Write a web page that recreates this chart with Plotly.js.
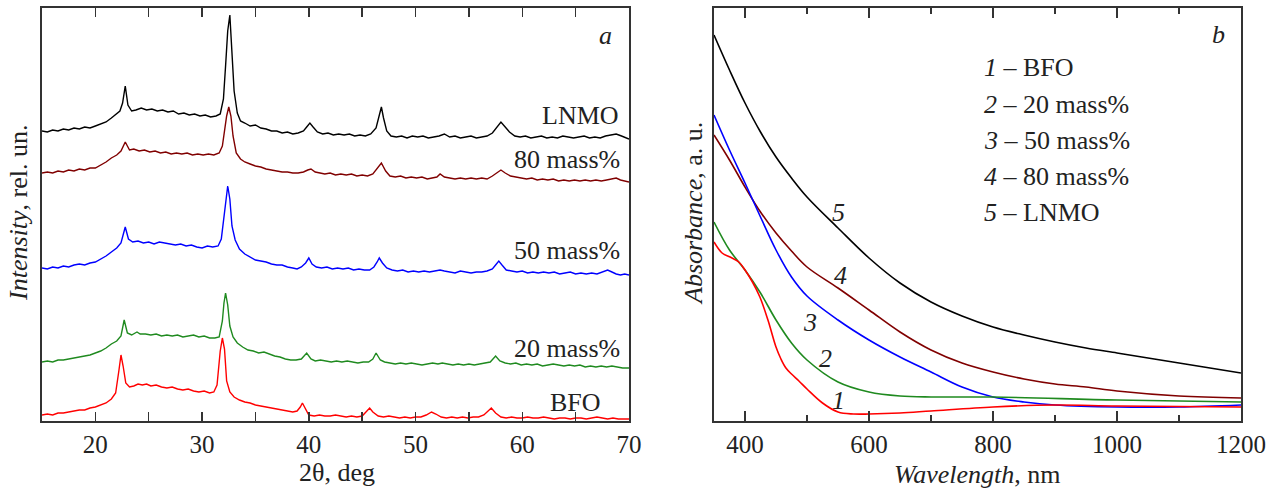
<!DOCTYPE html>
<html><head><meta charset="utf-8">
<script src="https://cdn.plot.ly/plotly-3.0.1.min.js"></script>
<style>body{margin:0;background:#fff}#c{width:1275px;height:492px}</style>
</head><body><div id="c"></div>
<script>
// ---------- Panel a: XRD (2θ, deg ; intensity, arbitrary units with offsets) ----------
const lnmoX = [15,15.5,16,16.5,17,17.5,18,18.5,19,19.5,20,20.5,21,21.5,22,22.3,22.55,22.8,23.05,23.4,23.8,24.3,24.8,25.3,25.8,26.3,26.8,27.3,27.8,28.3,28.8,29.3,29.8,30.3,30.8,31.3,31.7,32.0,32.2,32.4,32.6,32.8,33.0,33.3,33.6,34.0,34.5,35.0,35.5,36.0,36.5,37.0,37.5,38.0,38.5,39.0,39.5,39.8,40.1,40.4,40.8,41.3,41.8,42.3,42.8,43.3,43.8,44.3,44.8,45.3,45.8,46.3,46.6,46.8,47.0,47.3,47.7,48.2,48.7,49.2,49.7,50.2,50.7,51.2,51.7,52.2,52.7,53.2,53.7,54.2,54.7,55.2,55.7,56.2,56.7,57.2,57.6,58.0,58.4,58.8,59.3,59.8,60.3,60.8,61.3,61.8,62.3,62.8,63.3,63.8,64.3,64.8,65.3,65.8,66.3,66.8,67.3,67.8,68.3,68.8,69.3,69.7,70];
const lnmoY = [290,289,291,290,292,291,293,292,294,293,295,297,299,303,307,310,318,335,316,310,311,313,311,312,310,311,309,310,307,308,306,307,305,306,304,305,307,322,355,390,406,370,330,308,300,298,295,296,293,292,290,290,288,289,287,288,290,294,298,294,289,287,288,286,287,286,287,285,286,285,287,293,305,314,303,290,285,284,285,283,285,284,285,283,284,285,287,284,285,283,284,285,283,284,285,288,294,299,294,289,285,284,285,283,284,285,283,284,283,285,284,283,284,285,283,284,283,285,286,287,285,283,282];

const m80X = [15,15.5,16,16.5,17,17.5,18,18.5,19,19.5,20,20.5,21,21.5,22,22.4,22.8,23.2,23.6,24.1,24.6,25.1,25.6,26.1,26.6,27.1,27.6,28.1,28.6,29.1,29.6,30.1,30.6,31.1,31.6,31.9,32.1,32.3,32.5,32.7,32.9,33.2,33.6,34.0,34.5,35.0,35.5,36.0,36.5,37.0,37.5,38.0,38.5,39.0,39.5,39.9,40.2,40.6,41.0,41.5,42.0,42.5,43.0,43.5,44.0,44.5,45.0,45.5,46.0,46.4,46.8,47.2,47.6,48.1,48.6,49.1,49.6,50.1,50.6,51.1,51.6,52.0,52.3,52.7,53.2,53.7,54.2,54.7,55.2,55.7,56.2,56.7,57.2,57.6,58.0,58.4,58.9,59.4,59.9,60.4,60.9,61.4,61.9,62.4,62.9,63.4,63.9,64.4,64.9,65.4,65.9,66.4,66.9,67.4,67.9,68.4,68.8,69.2,69.6,70];
const m80Y = [248,249,248,250,249,251,250,252,251,253,253,256,259,263,266,270,279,271,272,270,271,269,270,268,269,267,268,267,268,266,267,266,267,266,268,275,290,305,314,305,285,268,262,259,257,255,254,252,251,250,249,249,248,248,249,251,252,249,248,247,248,246,247,246,247,245,246,245,247,252,258,250,245,244,245,243,244,243,244,242,243,244,247,244,243,242,243,242,243,242,243,242,245,248,251,248,245,244,243,242,243,241,242,241,242,240,241,240,241,240,241,240,241,240,241,242,243,241,240,239];

const m50X = [15,15.5,16,16.5,17,17.5,18,18.5,19,19.5,20,20.5,21,21.5,22,22.4,22.8,23.1,23.5,24.0,24.5,25.0,25.5,26.0,26.5,27.0,27.5,28.0,28.5,29.0,29.5,30.0,30.5,31.0,31.5,31.8,32.0,32.2,32.4,32.6,32.8,33.1,33.5,34.0,34.5,35.0,35.5,36.0,36.5,37.0,37.5,38.0,38.5,38.9,39.3,39.7,40.0,40.3,40.7,41.2,41.7,42.2,42.7,43.2,43.7,44.2,44.7,45.2,45.7,46.1,46.4,46.6,46.9,47.3,47.8,48.3,48.8,49.3,49.8,50.3,50.8,51.3,51.8,52.3,52.7,53.2,53.7,54.2,54.7,55.2,55.7,56.2,56.7,57.2,57.5,57.8,58.1,58.5,59.0,59.5,60.0,60.5,61.0,61.5,62.0,62.5,63.0,63.5,64.0,64.5,65.0,65.5,66.0,66.5,67.0,67.5,68.0,68.4,68.8,69.2,69.6,70];
const m50Y = [153,152,154,153,155,154,156,157,156,158,159,162,165,169,173,178,194,182,179,180,178,179,177,179,178,177,176,177,175,176,174,173,175,174,175,182,200,222,235,222,195,181,172,167,164,161,160,159,157,156,156,154,153,152,154,158,163,157,154,153,154,152,153,152,153,151,152,151,151,154,159,163,158,153,151,150,151,149,150,149,150,149,150,151,150,149,148,150,149,148,149,149,150,152,156,160,156,151,150,149,150,148,149,148,149,148,149,147,148,149,147,148,147,148,147,149,151,149,147,146,147,146];

const m20X = [15,15.5,16,16.5,17,17.5,18,18.5,19,19.5,20,20.5,21,21.5,22,22.4,22.7,23.0,23.4,23.9,24.2,24.7,25.2,25.7,26.2,26.7,27.2,27.7,28.2,28.7,29.2,29.7,30.2,30.7,31.2,31.6,31.9,32.05,32.2,32.4,32.6,32.9,33.3,33.8,34.3,34.8,35.3,35.8,36.3,36.8,37.3,37.8,38.3,38.8,39.3,39.8,40.2,40.6,41.1,41.6,42.1,42.6,43.1,43.6,44.1,44.6,45.1,45.6,46.0,46.3,46.7,47.1,47.6,48.1,48.6,49.1,49.6,50.1,50.6,51.1,51.6,52.1,52.5,53.0,53.5,54.0,54.5,55.0,55.5,56.0,56.5,57.0,57.5,57.9,58.4,58.9,59.4,59.9,60.4,60.9,61.4,61.9,62.4,62.9,63.4,63.9,64.4,64.9,65.4,65.9,66.4,66.9,67.4,67.9,68.4,68.9,69.4,70];
const m20Y = [59,60,59,61,61,62,63,64,65,66,68,70,73,77,80,85,101,88,86,89,87,87,86,87,85,86,85,86,84,85,86,84,85,83,83,84,100,118,128,116,95,84,78,74,71,70,68,69,67,65,64,62,61,61,62,68,62,60,61,60,59,60,59,60,59,58,59,59,62,68,61,59,58,57,58,57,58,57,56,57,58,57,58,57,56,57,56,57,56,57,58,59,65,60,58,57,58,56,57,56,57,55,56,57,56,55,56,55,56,54,55,54,55,54,55,54,53,53];

const bfoX = [15,15.5,16,16.5,17,17.5,18,18.5,19,19.5,20,20.5,21,21.5,21.9,22.2,22.4,22.6,22.85,23.2,23.6,24.0,24.4,24.8,25.2,25.7,26.2,26.7,27.2,27.7,28.2,28.7,29.2,29.7,30.2,30.7,31.1,31.4,31.7,31.9,32.1,32.3,32.6,33.0,33.5,34.0,34.5,35.0,35.5,36.0,36.5,37.0,37.5,38.0,38.5,38.9,39.2,39.4,39.7,40.0,40.5,41.0,41.5,42.0,42.5,43.0,43.5,44.0,44.5,45.0,45.4,45.7,46.0,46.5,47.0,47.5,48.0,48.5,49.0,49.5,50.0,50.5,51.0,51.5,51.9,52.4,52.9,53.4,53.9,54.4,54.9,55.4,55.9,56.4,56.8,57.1,57.5,58.0,58.5,59.0,59.5,60.0,60.5,61.0,61.5,62.0,62.5,63.0,63.5,64.0,64.5,65.0,65.5,66.0,66.5,67.0,67.5,68.0,68.5,69.0,69.5,70];
const bfoY = [6,7,6,8,8,9,10,11,11,13,14,16,18,22,28,50,66,55,38,34,35,37,36,37,35,36,34,33,34,32,31,32,30,29,30,28,29,36,70,83,72,40,29,24,21,19,18,16,15,14,13,12,11,10,9,10,14,18,12,6,5,6,5,5,6,5,4,5,4,5,9,13,9,5,4,5,4,3,4,3,4,4,6,9,7,4,3,4,3,4,3,4,4,6,10,13,8,4,3,4,3,3,4,3,3,4,3,2,3,3,2,3,3,2,3,4,3,2,3,2,2,2];

const xrdLabels = ["LNMO","80 mass%","50 mass%","20 mass%","BFO"];

// ---------- Panel b: absorbance (wavelength nm ; absorbance, a.u.) ----------
const wl5 = [350,375,400,425,450,475,500,550,600,650,700,750,800,850,900,950,1000,1050,1100,1150,1200];
const ab5 = [386,351,318,289,264,243,224,193,163,138,119,105,94,86,79,73,68,63,58,53,48];
const wl4 = [350,375,400,425,450,475,500,550,600,650,700,750,800,850,900,950,1000,1100,1200];
const ab4 = [286,261,234,209,188,170,154,133,111,89,71,58,49,42,37,34,30,25,23];
const wl3 = [350,375,400,425,450,475,500,550,600,650,700,750,800,850,900,1000,1100,1200];
const ab3 = [306,271,238,204,171,144,125,101,81,64,49,34,24,19,16,14,14,16];
const wl2 = [350,375,400,425,450,475,500,550,600,650,700,800,1000,1200];
const ab2 = [199,171,151,128,101,78,61,39,29,25,24,24,21,19];
const wl1 = [350,363,376,390,400,412,424,437,450,458,466,475,487,500,525,550,575,600,650,700,800,900,1000,1200];
const ab1 = [179,168,164,159,151,139,124,101,74,62,53,47,40,32,18,9,7,7,8,10,14,16,15,14];

const legendNums = ["1","2","3","4","5"];
const legendNames = ["BFO","20 mass%","50 mass%","80 mass%","LNMO"];

// ---------- styling ----------
const C = {lnmo:'#000000', m80:'#800000', m50:'#0000ff', m20:'#1f8a1f', bfo:'#ff0000'};
const FONT = 'Liberation Serif';
const TXT = '#222';

function L(x,y,color,xa,ya,w,shape){
  return {x:x,y:y,xaxis:xa,yaxis:ya,type:'scatter',mode:'lines',
    line:{color:color,width:w,shape:shape||'linear',smoothing:1},hoverinfo:'skip'};
}
const data = [
  L(lnmoX,lnmoY,C.lnmo,'x','y',1.4),
  L(m80X,m80Y,C.m80,'x','y',1.4),
  L(m50X,m50Y,C.m50,'x','y',1.4),
  L(m20X,m20Y,C.m20,'x','y',1.4),
  L(bfoX,bfoY,C.bfo,'x','y',1.4),
  L(wl5,ab5,C.lnmo,'x2','y2',1.6,'spline'),
  L(wl4,ab4,C.m80,'x2','y2',1.6,'spline'),
  L(wl3,ab3,C.m50,'x2','y2',1.6,'spline'),
  L(wl2,ab2,C.m20,'x2','y2',1.6,'spline'),
  L(wl1,ab1,C.bfo,'x2','y2',1.6,'spline')
];

// pixel helpers (plot area spans y 8..421 in the 492px page)
const W=1275, TOP=8, BOT=421, H=BOT-TOP;
const px = v => v/W;
const py = v => (BOT-v)/H;
function A(text,x,y,opt){
  return Object.assign({text:text,xref:'paper',yref:'paper',x:px(x),y:py(y),showarrow:false,
    xanchor:'center',yanchor:'middle',font:{family:FONT,size:26,color:TXT}},opt||{});
}
const ann = [];
const xrdPos = [[580,115],[567,160],[567,250],[567,348],[575,402]];
xrdLabels.forEach((t,i)=>ann.push(A(t,xrdPos[i][0],xrdPos[i][1])));
ann.push(A('<i>a</i>',605,35));
ann.push(A('<i>b</i>',1218,34));
ann.push(A('2θ, deg',337,472));
ann.push(A('<i>Wavelength</i>, nm',977,474));
ann.push(A('<i>Intensity</i>, rel. un.',19,213,{textangle:-90}));
ann.push(A('<i>Absorbance</i>, a. u.',693,214,{textangle:-90}));
legendNums.forEach((n,i)=>ann.push(A('<i>'+n+'</i> – '+legendNames[i],982,68+36*i,{xanchor:'left'})));
const curvePos = [[838,400],[825,358],[810,322],[840,275],[838,212]];
legendNums.forEach((n,i)=>ann.push(A('<i>'+n+'</i>',curvePos[i][0],curvePos[i][1])));

const axBase = {showgrid:false,zeroline:false,showline:true,linecolor:'#333',linewidth:2,mirror:'ticks',
  ticks:'inside',tickcolor:'#333',tickwidth:1.5,tickfont:{family:FONT,size:25,color:TXT}};
const layout = {
  width:1275,height:492,margin:{l:0,r:0,t:TOP,b:492-BOT},
  paper_bgcolor:'#fff',plot_bgcolor:'#fff',showlegend:false,
  xaxis:Object.assign({},axBase,{domain:[42/W,629/W],range:[15,70],tick0:0,dtick:10,ticklen:9,
    minor:{dtick:5,tick0:0,ticklen:9,tickwidth:1.5,tickcolor:'#333',ticks:'inside'}}),
  yaxis:Object.assign({},axBase,{domain:[0,1],range:[0,413],ticks:'',showticklabels:false,mirror:true}),
  xaxis2:Object.assign({},axBase,{anchor:'y2',domain:[714/W,1241/W],range:[350,1200],tick0:0,dtick:200,ticklen:10,
    minor:{dtick:100,tick0:0,ticklen:6,tickwidth:1.5,tickcolor:'#333',ticks:'inside'}}),
  yaxis2:Object.assign({},axBase,{anchor:'x2',domain:[0,1],range:[0,413],ticks:'',showticklabels:false,mirror:true}),
  annotations:ann
};
Plotly.newPlot('c',data,layout,{staticPlot:true,displayModeBar:false});
</script></body></html>
